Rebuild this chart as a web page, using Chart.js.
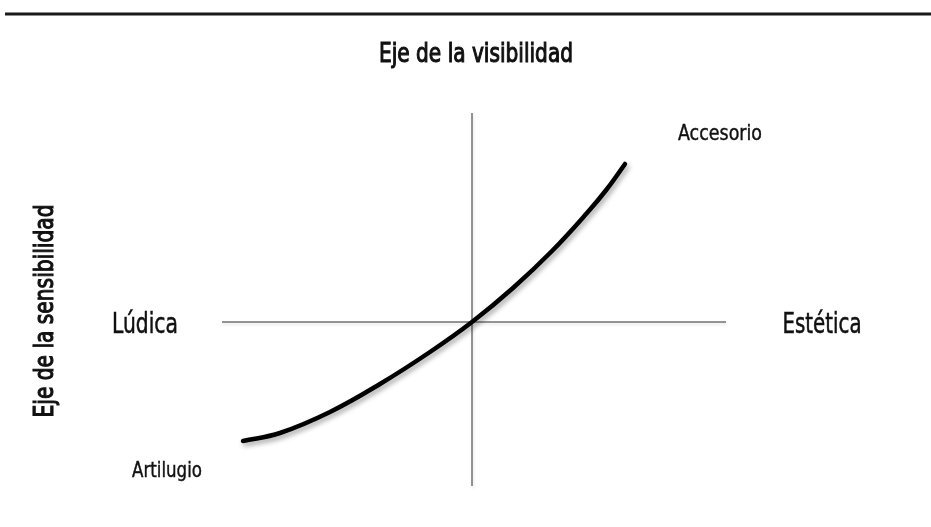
<!DOCTYPE html>
<html>
<head>
<meta charset="utf-8">
<script src="https://cdn.jsdelivr.net/npm/chart.js@4.4.1/dist/chart.umd.min.js"></script>
<style>
  body { margin: 0; background: #fff; }
  #wrap { width: 931px; height: 527px; }
</style>
</head>
<body>
<div id="wrap"><canvas id="mapa" width="931" height="527"></canvas></div>
<script>
// Curva: eje horizontal = visibilidad (Lúdica -> Estética), eje vertical = sensibilidad
const curvaX = [-22.9, -19.2, -14.2, -9.2, -4.2, 0, 4.1, 8.0, 11.5, 13.5, 15.3];
const curvaY = [-11.9, -11.1, -9.0, -6.2, -3.0, 0, 3.4, 7.1, 10.9, 13.3, 15.8];

// Extremos de los ejes
const ejeXMin = -25, ejeXMax = 25.4;
const ejeYMin = -16.4, ejeYMax = 20.9;

const tituloX = "Eje de la visibilidad";
const tituloY = "Eje de la sensibilidad";
const polos = ["Lúdica", "Estética"];
const extremos = ["Artilugio", "Accesorio"];

const fuente = '"DejaVu Sans Condensed", "DejaVu Sans", sans-serif';

const puntosCurva = curvaX.map((x, i) => ({ x: x, y: curvaY[i] }));

// sombra suave bajo la curva
const sombraPlugin = {
  id: "sombra",
  beforeDatasetDraw(chart, args) {
    const ctx = chart.ctx;
    ctx.save();
    if (args.index === 0) {
      ctx.shadowColor = "rgba(0,0,0,0.35)";
      ctx.shadowBlur = 5;
      ctx.shadowOffsetX = 2;
      ctx.shadowOffsetY = 3;
    } else {
      ctx.shadowColor = "rgba(0,0,0,0.12)";
      ctx.shadowBlur = 3;
      ctx.shadowOffsetX = 1;
      ctx.shadowOffsetY = 2;
    }
  },
  afterDatasetDraw(chart) {
    chart.ctx.restore();
  },
};

// texto estrechado al ancho que tiene en el original
function texto(ctx, str, x, y, font, ancho, rot, grosor) {
  ctx.save();
  ctx.font = font;
  const w = ctx.measureText(str).width;
  ctx.translate(x, y);
  if (rot) ctx.rotate(rot);
  ctx.scale(ancho / w, 1);
  ctx.fillText(str, 0, 0);
  if (grosor) {
    ctx.lineWidth = grosor;
    ctx.strokeStyle = ctx.fillStyle;
    ctx.strokeText(str, 0, 0);
  }
  ctx.restore();
}

// textos y barra superior
const textosPlugin = {
  id: "textos",
  afterDraw(chart) {
    const ctx = chart.ctx;
    ctx.save();
    ctx.fillStyle = "#1b1b1b";
    ctx.fillRect(5, 12.5, 926, 3);

    ctx.fillStyle = "#111";
    ctx.textAlign = "center";
    ctx.textBaseline = "middle";

    texto(ctx, tituloX, 476, 55, "27px " + fuente, 194, 0, 1.1);
    texto(ctx, tituloY, 46, 311, "27px " + fuente, 213, -Math.PI / 2, 1.1);

    texto(ctx, polos[0], 145, 326, "28px " + fuente, 66, 0, 0.5);
    texto(ctx, polos[1], 822, 326, "28px " + fuente, 79, 0, 0.5);

    texto(ctx, extremos[0], 167, 472, "21px " + fuente, 70, 0, 0.4);
    texto(ctx, extremos[1], 720, 135, "21px " + fuente, 84, 0, 0.4);
    ctx.restore();
  },
};

new Chart(document.getElementById("mapa"), {
  type: "scatter",
  data: {
    datasets: [
      {
        data: puntosCurva,
        showLine: true,
        borderColor: "#000",
        borderWidth: 4.5,
        borderCapStyle: "round",
        pointRadius: 0,
        tension: 0.4,
        clip: false,
        order: 0,
      },
      {
        data: [{ x: ejeXMin, y: 0 }, { x: ejeXMax, y: 0 }],
        showLine: true,
        borderColor: "#707070",
        borderWidth: 1.5,
        pointRadius: 0,
        clip: false,
        order: 1,
      },
      {
        data: [{ x: 0, y: ejeYMax }, { x: 0, y: ejeYMin }],
        showLine: true,
        borderColor: "#707070",
        borderWidth: 1.5,
        pointRadius: 0,
        clip: false,
        order: 1,
      },
    ],
  },
  options: {
    responsive: false,
    animation: false,
    layout: {
      padding: { left: 222, right: 205, top: 113, bottom: 41 },
    },
    plugins: {
      legend: { display: false },
      tooltip: { enabled: false },
    },
    scales: {
      x: { type: "linear", min: ejeXMin, max: ejeXMax, display: false },
      y: { type: "linear", min: ejeYMin, max: ejeYMax, display: false },
    },
  },
  plugins: [sombraPlugin, textosPlugin],
});
</script>
</body>
</html>
